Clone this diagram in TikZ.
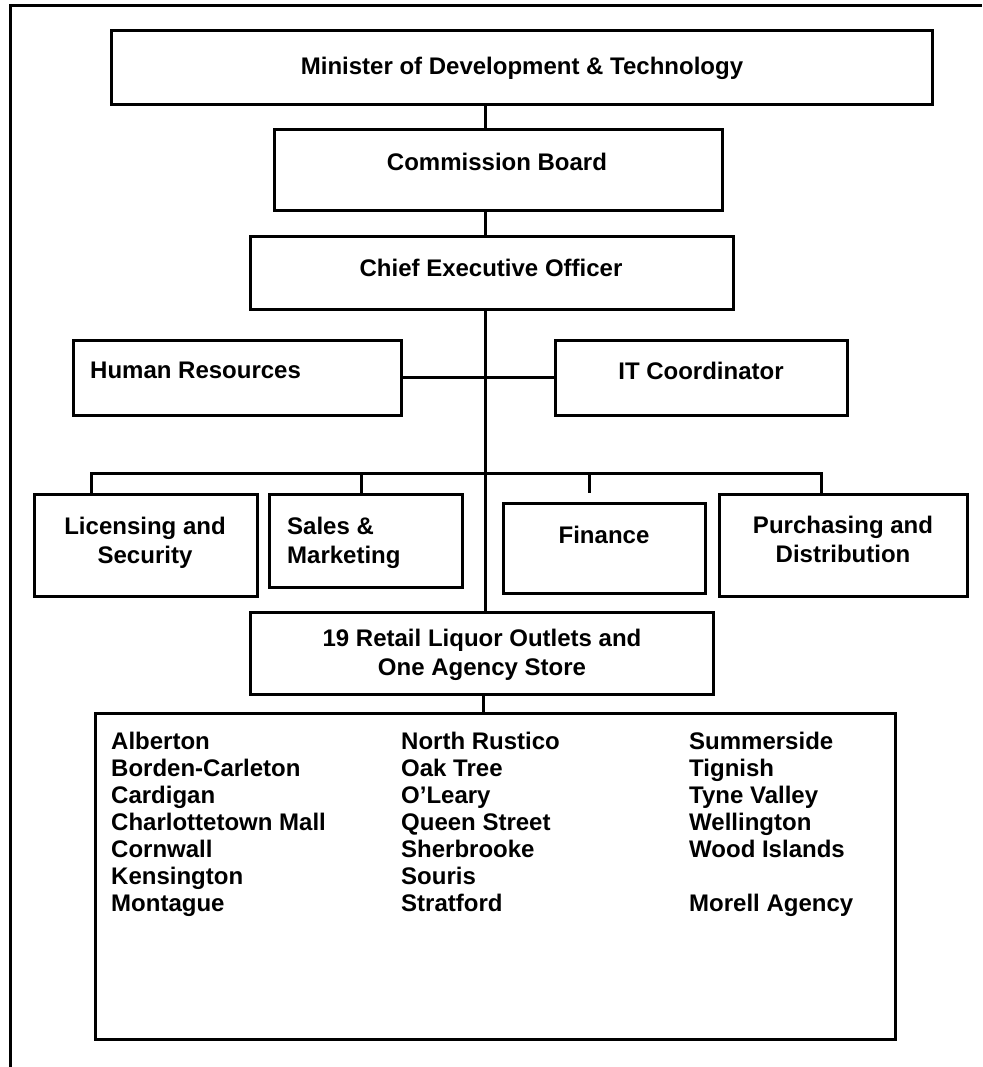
\documentclass[tikz,border=0pt]{standalone}
\usepackage{fontspec}
\setmainfont{Liberation Sans}
\begin{document}
\begin{tikzpicture}[x=1pt,y=-1pt,
  box/.style={draw, line width=3pt, outer sep=0pt, inner sep=0pt},
  lbl/.style={inner sep=0pt, font=\fontsize{24}{29}\selectfont\bfseries},
  lst/.style={inner sep=0pt, font=\fontsize{24}{27}\selectfont\bfseries, align=left, anchor=north west},
  conn/.style={line width=3pt}]
\useasboundingbox (0,0) rectangle (982,1067);
% outer frame
\coordinate (fbl) at (10.5,1067);
\coordinate (ftl) at (10.5,6);
\coordinate (ftr) at (982,6);
\draw[conn] (fbl) -- (ftl) -- (ftr);
% boxes
\node[box, minimum width=821pt, minimum height=74pt] (top) at (521.5,68) {};
\node[box, minimum width=448pt, minimum height=81pt] (cb) at (498,170.5) {};
\node[box, minimum width=483pt, minimum height=72pt] (ceo) at (491.5,273) {};
\node[box, minimum width=328pt, minimum height=75pt] (hr) at (237,377.5) {};
\node[box, minimum width=292pt, minimum height=75pt] (it) at (701,377.5) {};
\node[box, minimum width=223pt, minimum height=102pt] (lic) at (145.5,545) {};
\node[box, minimum width=193pt, minimum height=93pt] (sales) at (365.5,540.5) {};
\node[box, minimum width=202pt, minimum height=90pt] (fin) at (604,548) {};
\node[box, minimum width=248pt, minimum height=102pt] (pur) at (843,545) {};
\node[box, minimum width=463pt, minimum height=82pt] (ret) at (481.5,653) {};
\node[box, minimum width=800pt, minimum height=326pt] (list) at (495,876) {};
% texts
\node[lbl, anchor=north] (ttop) at (522,57) {Minister of Development \& Technology};
\node[lbl, anchor=north] (tcb) at (497,153) {Commission Board};
\node[lbl, anchor=north] (tceo) at (491,259) {Chief Executive Officer};
\node[lbl, anchor=north west] (thr) at (90,362) {Human Resources};
\node[lbl, anchor=north] (tit) at (701,362) {IT Coordinator};
\node[lbl, anchor=north, align=center] (tlic) at (145,517) {Licensing and\\Security};
\node[lbl, anchor=north west, align=left] (tsales) at (287,517) {Sales \&\\Marketing};
\node[lbl, anchor=north] (tfin) at (604,526) {Finance};
\node[lbl, anchor=north, align=center] (tpur) at (843,516) {Purchasing and\\Distribution};
\node[lbl, anchor=north, align=center] (tret) at (482,629) {19 Retail Liquor Outlets and\\One Agency Store};
\node[lst] (c1) at (111,732) {Alberton\\Borden-Carleton\\Cardigan\\Charlottetown Mall\\Cornwall\\Kensington\\Montague};
\node[lst] (c2) at (401,732) {North Rustico\\Oak Tree\\O’Leary\\Queen Street\\Sherbrooke\\Souris\\Stratford};
\node[lst] (c3) at (689,732) {Summerside\\Tignish\\Tyne Valley\\Wellington\\Wood Islands\\[27pt]Morell Agency};
% connectors
\coordinate (spine) at (485,0);
\draw[conn] (top.south -| spine) -- (cb.north -| spine);
\draw[conn] (cb.south -| spine) -- (ceo.north -| spine);
\draw[conn] (ceo.south -| spine) -- (ret.north -| spine);
\draw[conn] (hr.east) -- (it.west);
\coordinate (busl) at (91,473);
\coordinate (busr) at (821,473);
\coordinate (dsales) at (361,473);
\coordinate (dfin) at (589,473);
\coordinate (dfinend) at (589,493);
\draw[conn] (lic.north -| busl) -- (busl) -- (busr) -- (pur.north -| busr);
\draw[conn] (dsales) -- (sales.north -| dsales);
\draw[conn] (dfin) -- (dfinend);
\coordinate (rl) at (483,0);
\draw[conn] (ret.south -| rl) -- (list.north -| rl);
\end{tikzpicture}
\end{document}
